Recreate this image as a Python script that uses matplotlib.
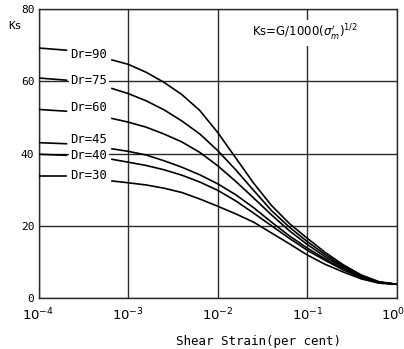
import matplotlib
matplotlib.use("Agg")
import matplotlib.pyplot as plt
from matplotlib.transforms import ScaledTranslation

# shear strain (per cent), as powers of ten, at which the curves were read
log_strain = [-3.18, -3.0, -2.8, -2.6, -2.4, -2.2, -2.0, -1.8, -1.6, -1.4,
              -1.2, -1.0, -0.8, -0.6, -0.4, -0.2, 0.0]
strain = [10 ** e for e in log_strain]

dr_labels = ["Dr=90", "Dr=75", "Dr=60", "Dr=45", "Dr=40", "Dr=30"]
ks_90 = [65.9, 64.7, 62.5, 59.7, 56.3, 51.9, 45.8, 38.8, 31.8, 25.6, 20.6, 16.5, 12.6, 9.2, 6.4, 4.5, 3.8]
ks_75 = [58.0, 56.6, 54.6, 52.1, 49.0, 45.4, 40.8, 35.5, 29.8, 24.2, 19.6, 15.6, 12.0, 8.8, 6.2, 4.4, 3.8]
ks_60 = [49.7, 48.7, 47.3, 45.4, 43.2, 40.3, 36.6, 32.3, 27.7, 23.0, 18.6, 14.8, 11.4, 8.5, 6.0, 4.3, 3.8]
ks_45 = [41.3, 40.6, 39.6, 38.0, 36.2, 34.1, 31.6, 28.6, 25.0, 21.0, 17.2, 13.8, 10.8, 8.1, 5.8, 4.3, 3.8]
ks_40 = [38.4, 37.6, 36.7, 35.5, 34.0, 32.1, 29.8, 26.9, 23.5, 20.0, 16.5, 13.2, 10.4, 7.8, 5.6, 4.2, 3.8]
ks_30 = [32.4, 31.9, 31.3, 30.4, 29.2, 27.4, 25.4, 23.3, 21.0, 18.0, 15.0, 11.9, 9.3, 7.2, 5.3, 4.1, 3.8]
curves = [ks_90, ks_75, ks_60, ks_45, ks_40, ks_30]

# short leader lines at the left edge (start, end) and label heights
lead_strain = [1e-4, 2.05e-4]
lead_ks = [(69.2, 68.6), (60.9, 60.3), (52.2, 51.7), (43.0, 42.7), (39.8, 39.5), (33.9, 33.9)]
label_ks = [67.5, 60.1, 52.8, 44.0, 39.5, 33.9]
label_strain = 3.65e-4

yticks = [0, 20, 40, 60, 80]
xticks = [1e-4, 1e-3, 1e-2, 1e-1, 1]
xticklabels = [r"$10^{-4}$", r"$10^{-3}$", r"$10^{-2}$", r"$10^{-1}$", r"$10^{0}$"]

mono = "DejaVu Sans Mono"

fig = plt.figure(figsize=(4.04, 3.49), dpi=100)
ax = fig.add_axes([0.0953, 0.1461, 0.8874, 0.8281])
ax.set_xscale("log")
ax.set_xlim(1e-4, 1)
ax.set_ylim(0, 80)

ax.set_xticks(xticks)
ax.set_xticklabels(xticklabels, fontsize=9.5)
ax.minorticks_off()
ax.set_yticks(yticks)
ax.set_yticklabels([str(v) for v in yticks], family=mono, fontsize=8)
ax.tick_params(length=0, pad=3)
ax.tick_params(axis="x", pad=6)
# pull the last x label in a little so it stays on the canvas
last = ax.get_xticklabels()[-1]
last.set_transform(last.get_transform() + ScaledTranslation(-4 / 100, 0, fig.dpi_scale_trans))

ax.grid(True, color="#2a2a2a", lw=1.0)
for s in ax.spines.values():
    s.set_color("#2a2a2a")
    s.set_linewidth(1.0)

for ks, lead, lab, ly in zip(curves, lead_ks, dr_labels, label_ks):
    ax.plot(strain, ks, color="black", lw=1.2, zorder=3)
    ax.plot(lead_strain, lead, color="black", lw=1.2, zorder=3)
    ax.text(label_strain, ly, lab, family=mono, fontsize=8.8, ha="center", va="center",
            zorder=4, bbox=dict(facecolor="white", edgecolor="none", pad=1))

ax.text(0.596, 0.917, r"Ks=G/1000($\sigma_m'$)$^{1/2}$", transform=ax.transAxes,
        fontsize=8.5, ha="left", va="center", zorder=4,
        bbox=dict(facecolor="white", edgecolor="none", pad=2))

fig.text(15 / 404, 1 - 26 / 349, "Ks", family=mono, fontsize=8, ha="center", va="center")
fig.text(258 / 404, 1 - 342 / 349, "Shear Strain(per cent)", family=mono, fontsize=9,
         ha="center", va="center")

fig.savefig("out.png", dpi=100)
